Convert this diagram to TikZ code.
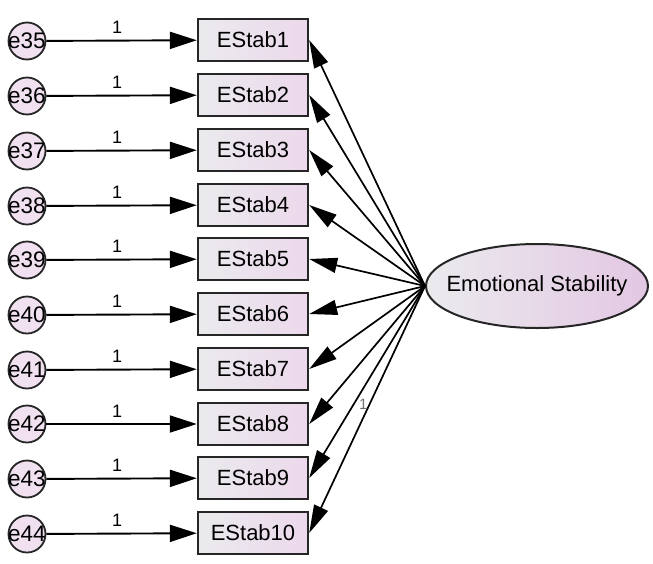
\documentclass[tikz,border=0pt]{standalone}
\usepackage{fontspec}
\setmainfont{Liberation Sans}
\usetikzlibrary{arrows.meta,shapes.geometric}

\begin{document}
\begin{tikzpicture}[
        x=1pt, y=-1pt,
        error_var/.style={circle, draw=black!85, line width=1.8pt, minimum size=37pt, inner sep=-6pt,
            fill=violet!12, font=\fontsize{22.5}{24}\selectfont},
        indicator/.style={rectangle, draw=black!85, line width=2.4pt, minimum width=110pt, minimum height=42pt,
            left color=blue!8!gray!15, right color=violet!15, font=\fontsize{22}{26}\selectfont},
        latent/.style={ellipse, draw=black!85, line width=2pt, minimum width=222pt, minimum height=84pt,
            inner xsep=-15pt, inner ysep=0pt,
            left color=blue!8!gray!15, right color=violet!22, font=\fontsize{22}{26}\selectfont},
        path_arrow/.style={line width=1.9pt, -{Triangle[length=27pt, width=17pt]}},
        load_arrow/.style={line width=1.7pt, -{Triangle[length=28pt, width=15pt]}},
        load_label/.style={font=\fontsize{18}{20}\selectfont, inner sep=1pt}
    ]

    \useasboundingbox (0,0) rectangle (653,563);

    % --- Error Terms ---
    \node[error_var] (e35) at (27,41) {e35};
    \node[error_var] (e36) at (27,96) {e36};
    \node[error_var] (e37) at (27,151) {e37};
    \node[error_var] (e38) at (27,206) {e38};
    \node[error_var] (e39) at (27,260) {e39};
    \node[error_var] (e40) at (27,315) {e40};
    \node[error_var] (e41) at (27,370) {e41};
    \node[error_var] (e42) at (27,424) {e42};
    \node[error_var] (e43) at (27,479) {e43};
    \node[error_var] (e44) at (27,534) {e44};

    % --- Indicators ---
    \node[indicator] (s1) at (253,40) {EStab1};
    \node[indicator] (s2) at (253,95) {EStab2};
    \node[indicator] (s3) at (253,150) {EStab3};
    \node[indicator] (s4) at (253,205) {EStab4};
    \node[indicator] (s5) at (253,259) {EStab5};
    \node[indicator] (s6) at (253,314) {EStab6};
    \node[indicator] (s7) at (253,369) {EStab7};
    \node[indicator] (s8) at (253,424) {EStab8};
    \node[indicator] (s9) at (253,478) {EStab9};
    \node[indicator] (s10) at (253,533) {EStab10};

    % Latent factor
    \node[latent] (stab) at (537,286) {Emotional Stability};

    % --- Error Paths (fixed to 1) ---
    \draw[path_arrow] (e35) -- node[load_label, above=5pt, pos=0.47] {1} (s1);
    \draw[path_arrow] (e36) -- node[load_label, above=5pt, pos=0.47] {1} (s2);
    \draw[path_arrow] (e37) -- node[load_label, above=5pt, pos=0.47] {1} (s3);
    \draw[path_arrow] (e38) -- node[load_label, above=5pt, pos=0.47] {1} (s4);
    \draw[path_arrow] (e39) -- node[load_label, above=5pt, pos=0.47] {1} (s5);
    \draw[path_arrow] (e40) -- node[load_label, above=5pt, pos=0.47] {1} (s6);
    \draw[path_arrow] (e41) -- node[load_label, above=5pt, pos=0.47] {1} (s7);
    \draw[path_arrow] (e42) -- node[load_label, above=5pt, pos=0.47] {1} (s8);
    \draw[path_arrow] (e43) -- node[load_label, above=5pt, pos=0.47] {1} (s9);
    \draw[path_arrow] (e44) -- node[load_label, above=5pt, pos=0.47] {1} (s10);

    % --- Factor Loadings ---
    \draw[load_arrow] (stab.west) -- (s1.east);
    \draw[load_arrow] (stab.west) -- (s2.east);
    \draw[load_arrow] (stab.west) -- (s3.east);
    \draw[load_arrow] (stab.west) -- (s4.east);
    \draw[load_arrow] (stab.west) -- (s5.east);
    \draw[load_arrow] (stab.west) -- (s6.east);
    \draw[load_arrow] (stab.west) -- (s7.east);
    \draw[load_arrow] (stab.west) -- (s8.east);
    \draw[load_arrow] (stab.west) -- (s9.east);
    \draw[load_arrow] (stab.west) -- node[load_label, left=0pt, pos=0.48, font=\fontsize{15}{17}\selectfont, text=black!55] {1} (s10.east);

    \end{tikzpicture}
\end{document}
